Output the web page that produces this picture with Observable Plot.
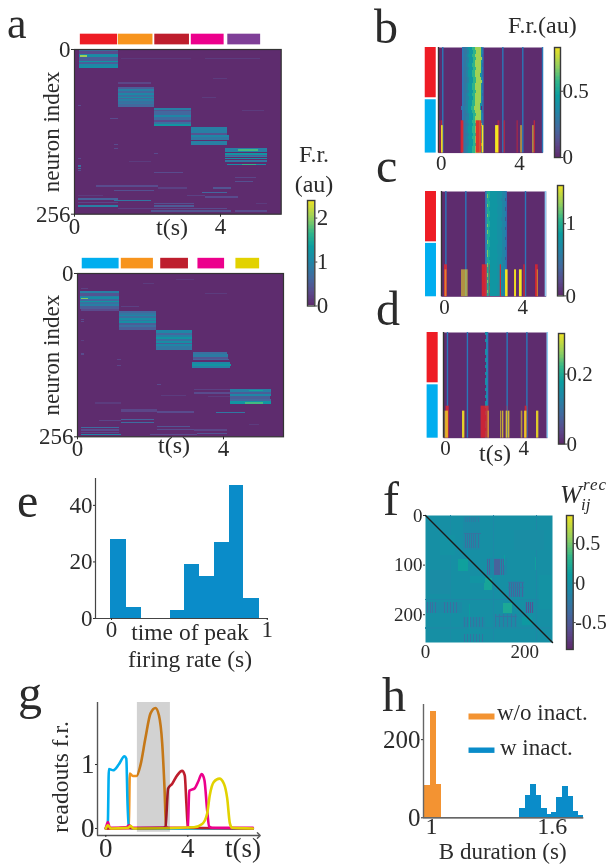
<!DOCTYPE html>
<html><head><meta charset="utf-8">
<script src="https://cdn.jsdelivr.net/npm/d3@7"></script>
<script src="https://cdn.jsdelivr.net/npm/@observablehq/plot@0.6"></script>
<style>
html,body{margin:0;padding:0;background:#fff}
#root{position:relative;width:610px;height:867px;overflow:hidden;filter:blur(.35px);font-family:"Liberation Serif",serif;color:#2b2b2b}
#root svg{position:absolute;overflow:visible;background:transparent}
#root svg.heat g[aria-label="rect"]{filter:blur(.65px)}
.lb{position:absolute;line-height:.72;white-space:nowrap}
</style></head><body><div id="root"></div>
<script>
const C={red:"#ee1c25",orange:"#f7941d",dred:"#be1e2d",pink:"#ec008c",purple:"#7f3f98",blue:"#00aeef",yellow:"#e2d200",bar:"#0a8cc9"};

// ---------- panel a (top): strips [t0,t1,row0,row1,value]
const aTopBlocks=[
[.14,1.2,1,3,.7],[.14,1.2,3,8,.3],[.14,1.2,8,10,1.0],[.14,1.2,10,13,1.1],[.16,.36,10,13,2.0],[.14,1.2,13,18,.5],[.14,1.2,18,20,1.2],[.14,1.2,20,24,.5],[.14,1.2,24,26,1.0],[.14,1.2,26,29,1.1],[.14,1.2,29,30,.6],
[1.2,2.2,59,62,.5],[1.2,2.2,62,66,.9],[1.2,2.2,66,69,.6],[1.2,2.2,69,71,1.0],[1.2,2.2,71,74,.7],[1.2,2.2,74,76,1.1],[1.2,2.2,76,78,.6],[1.2,2.2,78,81,.9],[1.2,2.2,81,84,.7],[1.2,2.2,84,86,.8],[1.2,2.2,86,90,.6],
[2.2,3.2,91,95,.9],[2.2,3.2,95,97,.4],[2.2,3.2,97,102,.6],[2.2,3.2,102,105,1.0],[2.2,3.2,105,110,.65],[2.2,3.2,110,114,.3],[2.2,3.2,114,116,.7],[2.2,3.2,116,120,1.2],
[3.2,4.2,122,130,.9],[3.2,4.2,130,133,.4],[3.2,4.25,133,137,1.0],[3.2,4.25,137,142,.8],[3.2,4.2,143,149,.9],
[4.15,5.3,154,160,.9],[4.5,5.05,156,158,1.7],[4.15,5.3,162,164,1.2],[4.15,5.3,164,166,.5],[4.15,5.3,166,168,.8],[4.15,5.3,169,171,1.1],[4.15,5.3,172,176,.8],[4.2,5.25,178,180,1.1],[4.6,5,178,180,1.6]];
const aTopFaint=[
[1.3,3.2,14,16,.12],[3.6,5.1,14,16,.15],[1.2,2.1,52,54,.25],[3.8,4.2,45,46,.15],[.1,.2,57,58,.4],[.1,.2,63,64,.3],[.1,.2,71,72,.3],[.1,.2,87,88,.3],[3.5,3.9,75,76,.15],[4.6,5.2,95,97,.15],[1,1.2,107,109,.3],[.1,.3,107,108,.3],[.1,.2,127,128,.3],[1.1,1.2,148,150,.3],[1.1,1.2,154,155,.3],[2.2,2.3,162,163,.3],[.1,.2,166,167,.3],[.1,.2,170,171,.3],[1.5,2.1,174,175,.15],[.1,.2,181,183,.7],[.1,.2,185,186,.7],[.1,.2,188,189,.3],[2.2,3,191,193,.3],[.1,.2,194,195,.3],[.1,.2,200,201,.3],[4.4,5,199,201,.25],[4.4,4.9,205,207,.35],[.6,2.3,212,214,.3],[2.3,3.1,215,217,.2],[3.8,4.3,215,217,.4],[1.1,2.2,219,221,.35],[3.5,4.2,222,224,.6],[.1,.8,227,229,.15],[3.1,3.6,227,229,.2],[3.6,4.5,229,231,.3],[.1,1.2,232,234,.55],[1.1,2.1,234,236,.8],[.1,1.2,238,240,.25],[2.2,3.3,239,241,.35],[5,5.3,239,241,.15],[.1,1.2,243,245,.9],[2.2,3.3,243,245,.45],[1.2,2.2,247,249,.2],[2.2,3.2,247,249,.3],[3.2,4.2,247,249,.3],[2.1,4.3,251,253,.4],[4.4,5.3,251,253,.3]];
const aTopStarts=[.16,1.2,2.2,3.2,4.2], aTopEnds=[1.18,2.15,3.15,4.1,5.1];
const aTopColors=[C.red,C.orange,C.dred,C.pink,C.purple];

// ---------- panel a (bottom)
const aBotBlocks=[
[.09,1.14,29,31,.9],[.09,1.14,31,36,.4],[.09,1.14,36,38,.9],[.09,1.14,38,41,1.1],[.1,.3,39,41,1.9],[.09,1.14,41,44,.6],[.09,1.14,44,46,1.2],[.09,1.14,46,48,.7],[.09,1.14,48,51,.9],[.09,1.14,51,56,.5],[.12,1.14,56,60,.3],
[1.15,2.17,60,63,.6],[1.15,2.17,63,66,.8],[1.15,2.17,66,68,1.0],[1.15,2.17,68,71,.7],[1.15,2.17,71,73,1.1],[1.15,2.17,73,76,.8],[1.15,2.17,76,78,1.1],[1.15,2.17,78,81,.5],[1.15,2.17,81,85,.7],[1.15,2.17,85,89,.5],
[2.17,3.16,90,94,1.0],[2.17,3.16,94,97,.6],[2.17,3.16,97,100,.9],[2.17,3.16,100,103,1.2],[2.17,3.16,103,106,.7],[2.17,3.16,106,109,1.1],[2.17,3.16,109,112,.5],[2.17,3.16,112,115,1.0],[2.17,3.16,115,120,.8],
[3.18,4.12,124,127,.7],[3.18,4.15,127,132,.85],[3.18,4.15,132,135,.4],[3.18,4.17,135,137,.55],[3.16,4.2,139,142,1.0],[3.16,4.21,142,146,1.2],[3.16,4.2,146,149,.9],
[4.18,5.32,182,186,.9],[4.7,5.1,183,185,1.4],[4.18,5.32,186,190,.5],[4.18,5.32,190,193,1.0],[4.18,5.3,193,197,.5],[4.18,5.32,197,200,.6],[4.18,5.32,201,206,1.2],[4.6,5.1,202,205,1.7]];
const aBotFaint=[
[.1,.2,20,21,.25],[.1,.3,24,25,.2],[1.8,2.2,17,18,.12],[2.7,3.2,10,11,.12],[1.8,2.1,16,17,.15],[3.5,4.1,32,33,.15],[1.2,1.7,52,54,.2],[.1,.2,72,73,.3],[3.5,4.1,73,74,.15],[.1,.2,76,77,.3],[4.9,5.3,95,96,.12],[.1,.2,100,101,.3],[.1,.2,105,106,.2],[.5,.9,117,118,.15],[.1,.2,126,128,.3],[1.1,1.2,135,137,.25],[1.1,1.2,145,146,.25],[.1,.2,161,162,.2],[1.3,1.9,175,176,.15],[2.2,2.3,174,176,.3],[.1,.2,175,176,.3],[3.2,4.2,182,184,.2],[3.2,4.2,187,189,.3],[2.3,3,191,193,.15],[3.6,4.2,193,195,.15],[.5,1.2,203,205,.15],[.2,1.2,214,215,.3],[1.2,2.2,213,218,.25],[2.2,3.2,217,219,.3],[3.8,4.6,218,220,.8],[.6,1.2,231,232,.25],[1.2,2.1,229,231,.55],[1.2,2.1,233,235,.65],[2.2,3.1,240,242,.4],[.1,1.15,241,243,.65],[.1,1.15,245,247,.3],[.1,1.15,249,251,.25],[2.2,3.2,244,246,.3],[3.2,4.1,245,247,.25],[4.7,5,236,238,.15],[.1,1.2,252,254,1.0],[2,3.3,252,254,.3],[3.3,4.1,251,253,.4]];
const aBotStarts=[.13,1.2,2.28,3.3,4.34], aBotEnds=[1.14,2.08,3.04,4.03,4.99];
const aBotColors=[C.blue,C.orange,C.dred,C.pink,C.yellow];

// ---------- panels b, c, d: trial raster
const bandColsB=[[1.1,1.3,.27],[1.3,1.42,.33],[1.42,1.62,.43],[1.62,1.76,.56],[1.76,2.06,.7],[2.06,2.13,.38]];
const bShift=[.0,.02,-.01,.03,.01,-.02,.02,.0,-.03,.02,.03,-.01,.0,.02,-.02,.01,.0,-.03,-.05,-.02,.02,.01,-.01,.03,.0,-.02,.02,-.01,.01,.03,.0,-.02];
const bBlue=[.08,1.1,2.13,3.15,4.17,5.18];
const bRed=[[-.14,-.03,.6],[0,.08,.7],[1.02,1.16,.9],[1.79,1.99,.9],[1.99,2.08,.85],[2.9,3,.5],[3.22,3.27,.8],[3.88,3.93,.7],[4.75,4.82,.7]];
const bYellow=[[.02,.1,1],[2.1,2.18,1],[2.78,2.95,1],[4.07,4.14,.7],[4.67,4.75,.55]];

const bandColsC=[[2.1,2.16,.5],[2.16,2.22,1.2],[2.22,2.33,.95],[2.33,2.72,.78],[2.72,2.95,.72],[2.95,3.15,.62]];
const cShift=[.0,.01,-.02,.0,.02,-.01,.0,.02,-.03,.0,.01,-.02,.01,.0,-.01,.02,.0,-.01,.01,.02,-.03,.0,.01,.0,-.02,.01,.0,.02,-.01,.0,.01,-.02];
const cBlue=[.07,1.09,2.13,3.15,4.14];
const cRed=[[0,.15,.85],[1.93,2.18,.85],[2.28,2.35,.4],[2.85,2.91,.9],[4.04,4.14,.6],[4.65,4.79,.8]];
const cYellow=[[.03,.12,.45],[.87,1.21,.55],[3.12,3.25,1],[3.58,3.68,.95],[3.83,3.97,1],[4.74,4.8,.45]];

const bandColsD=[[2.06,2.12,.13],[2.12,2.18,.17]];
const dShift=[.0,.02,-.02,.01,.03,-.01,.0,.02,-.03,.02,.0,.03,-.02,.01,.0,-.03,.02,.0,.02,-.01,.01,-.02,.0,.02,-.02,.01,.03,.0,-.01,.02,.0,-.02];
const dBlue=[.1,1.12,2.15,3.15,4.16];
const dRed=[[.03,.19,.85],[1.82,2.23,.8],[3.13,3.19,.4],[4.07,4.17,.85]];
const dYellow=[[-.02,.15,.7],[.87,.99,.9],[2.18,2.23,.8],[2.81,2.86,.6],[2.9,2.98,.7],[3.1,3.17,.75],[3.2,3.29,.75],[3.87,3.95,.55],[4.04,4.16,.8],[4.65,4.77,.85]];

// ---------- panel e
const eEdges=[[-.004,.093],[.093,.19],[.377,.47],[.47,.565],[.565,.662],[.662,.755],[.755,.85],[.85,.947]];
const eCounts=[28,4,3,19,15,27,47,7];

// ---------- panel f: [x0,x1,y0,y1,value]
const fPatches=[
[67,87,89,112,.12],[118,135,126,152,.17],[158,175,178,198,.2],[90,120,122,138,.0],[195,215,205,222,.05],[76,111,3,70,-.1],[124,165,87,121,-.12],[168,200,134,165,-.12],[201,220,175,198,-.14],[3,74,175,198,-.1],[77,120,205,228,-.1],[141,185,200,225,-.1],[0,256,226,229,-.09],
[50,52,0,256,-.09],[138,140,0,256,-.12],[224,226,0,256,-.13],[0,256,170,172,-.13],[0,256,88,89,-.01],[160,162,80,100,.1],[88,90,180,230,.08],[222,224,85,110,.12],[30,60,40,80,-.02],[180,240,30,70,-.07],[10,50,110,160,-.08],[230,256,120,190,-.02]];
const fStripes=[
...[80,84,88,93,97,101,106].flatMap(x=>[[x,x+2,36,66,-.34],[x,x+2,4,14,-.25]]),
[78,112,37,38,-.3],[78,112,46,47,-.28],[78,112,58,59,-.3],
...[125,129,140,144,148,153,157].map(x=>[x,x+2.5,88,120,-.45]),
...[170,174,178,182,186,190,195].map(x=>[x,x+2,135,165,-.43]),
[168,200,136,137,-.3],[168,200,146,147,-.3],
...[204,208,212,216].map(x=>[x,x+2,176,198,-.55]),
...[5,10,14,20,38,44,50,56,62,68].map(x=>[x,x+1.5,176,198,-.35]),
...[78,84,90,96,102,108,114].flatMap(x=>[[x,x+2,205,226,-.3],[x,x+2,240,256,-.3]]),
...[142,150,158,166,174,182].map(x=>[x,x+2,200,225,-.3]),
[76,122,243,244,-.35],[142,186,204,205,-.3],[55,120,122,123,-.2]];

// ---------- panel g
const gT={blue:[0,.03,.1,.15,.36,.63,.91,1,1.06,1.12,1.3,7.17],
  orange:[0,1.05,1.12,1.17,1.32,1.5,1.69,1.93,2.18,2.42,2.59,2.75,2.86,2.94,3.1,7.17],
  dred:[0,2.8,2.91,3.04,3.24,3.48,3.72,3.85,3.93,4,4.15,7.17],
  pink:[0,.05,.1,.2,1,1.15,1.3,3.9,4,4.07,4.34,4.5,4.68,4.81,4.94,5.04,5.2,7.17],
  yellow:[0,.1,.25,1.1,1.2,1.35,4.3,4.7,4.94,5.07,5.27,5.54,5.76,5.92,6.05,6.16,7.17]};
const gV={blue:[0,0,.1,.93,.91,1,1.13,1.09,.39,.03,0,0],
  orange:[0,.02,.03,.86,.82,.82,.99,1.41,1.8,1.885,1.77,1.33,.65,.03,0,0],
  dred:[0,.01,.03,.625,.7,.83,.9,.83,.39,.03,.01,0],
  pink:[.01,.06,.1,.01,.02,.05,.01,.01,.03,.59,.63,.73,.85,.755,.29,.03,.01,.01],
  yellow:[0,.05,0,.01,.04,0,.02,.07,.23,.52,.73,.78,.7,.47,.08,.01,0]};

// ---------- panel h
const hOrangeEdges=[.967,.997,1.025,1.051], hOrange=[82,271,84];
const hBlueEdges=[1.413,1.438,1.468,1.493,1.521,1.547,1.575,1.597,1.621,1.65,1.679,1.707,1.729,1.757];
const hBlue=[2,24,56,84,57,24,8,14,52,80,54,17,6];

// ---------- helpers
const root=document.getElementById("root");
const mapStops=[0,.12,.25,.42,.55,.68,.82,1];
const mapColors=["#5e2c6e","#5a4a8c","#43689e","#1e87a6","#0a9da0","#2fb58a","#93cf5e","#f3e31f"];
const ramp=d3.scaleLinear().domain(mapStops).range(mapColors).interpolate(d3.interpolateRgb);
const bg=ramp(0);
function place([x0,y0,x1,y1],[mt,mr,mb,ml],fs,opts,marks){
  const svg=Plot.plot({width:x1-x0+ml+mr,height:y1-y0+mt+mb,marginTop:mt,marginRight:mr,marginBottom:mb,marginLeft:ml,
    style:{fontFamily:'"Liberation Serif",serif',fontSize:fs+"px",color:"#2b2b2b",background:"transparent",overflow:"visible"},...opts,marks});
  svg.style.left=(x0-ml)+"px";svg.style.top=(y0-mt)+"px";root.append(svg);return svg;
}
function label(text,x,base,size,o={}){
  const d=document.createElement("div");d.className="lb";d.innerHTML=text;
  d.style.fontSize=size+"px";
  const dy=.6975*size;
  if(o.rotate){
    d.style.left=x+"px";d.style.top=base+"px";
    d.style.transformOrigin="0 0";
    d.style.transform=`rotate(-90deg) translate(-50%,${-dy}px)`;
  }else{
    d.style.left=x+"px";d.style.top=(base-dy)+"px";
    if(o.center)d.style.transform="translateX(-50%)";
  }
  root.append(d);
}
const rows=a=>a.map(([t0,t1,r0,r1,v])=>({t0,t1,r0,r1,v}));
function heatRect(a){return Plot.rect(rows(a),{x1:"t0",x2:"t1",y1:"r0",y2:"r1",fill:"v",shapeRendering:"crispEdges"});}
function colorbar(rect,domain,ticks,fs){
  const n=80,[a,b]=domain,st=(b-a)/n;
  place(rect,[1,32,1,4],fs,{x:{domain:[0,1],axis:null},y:{domain,axis:null},color:{domain,interpolate:ramp}},[
    Plot.rect(d3.range(n).map(i=>a+i*st),{x1:0,x2:1,y1:d=>d,y2:d=>d+st*1.05,fill:d=>d,shapeRendering:"crispEdges"}),
    Plot.frame({stroke:"#3a3a3a",strokeWidth:1.4}),
    Plot.axisY({anchor:"right",ticks,tickSize:2,tickPadding:0,tickFormat:d=>String(d),stroke:"#3a3a3a"})
  ]);
}
function heatA(rect,blocks,faint,starts,ends,colors,labelX){
  const svg=place(rect,[30,6,36,62],23,{
    x:{domain:[0,(rect[2]-rect[0])/36.5],axis:null},y:{domain:[0,256],reverse:true,axis:null},
    color:{domain:[0,2.4],interpolate:ramp}},[
    Plot.frame({fill:bg,stroke:null}),
    heatRect(faint),heatRect(blocks),
    Plot.frame({stroke:"#333",strokeWidth:1.2}),
    Plot.axisX({ticks:[0,4],tickSize:3,tickPadding:0,label:null,tickFormat:d=>d}),
    Plot.axisY({ticks:[0,256],tickSize:3,tickPadding:1,label:"neuron index",labelAnchor:"center",labelArrow:"none",labelOffset:labelX,tickFormat:d=>d})
  ]);
  svg.classList.add("heat");
  // condition bars above the frame share the time axis
  place(rect,[30,6,36,62],23,{x:{domain:[0,(rect[2]-rect[0])/36.5],axis:null},y:{domain:[0,256],reverse:true,axis:null}},[
    Plot.rect(starts.map((s,i)=>({s,e:ends[i],c:colors[i]})),{x1:"s",x2:"e",y1:-23.8,y2:-7.2,fill:"c"})
  ]);
}
function raster(rect,origin,cols,shift,blue,lightBlue,red,yellow,vmax,redFrom,yelFrom,side,redSplit){
  const [x0,,x1]=rect, dom=[(x0-origin)/19.57,(x1-origin)/19.57];
  const h=100/shift.length;
  const band=shift.flatMap((s,i)=>cols.map(([a,b,v])=>({a:a+s,b:b+s,r0:i*h,r1:(i+1)*h,v})));
  const ov=(a,from,c)=>Plot.rect(a.map(([p,q,o])=>({p,q,o})),{x1:"p",x2:"q",y1:from,y2:100,fill:c,fillOpacity:"o"});
  place(rect,[4,8,26,22],21,{
    x:{domain:dom,axis:null},y:{domain:[0,100],reverse:true,axis:null},
    color:{domain:[0,vmax],interpolate:ramp},opacity:{type:"identity"}},[
    Plot.frame({fill:bg,stroke:null}),
    Plot.rect(band,{x1:"a",x2:"b",y1:"r0",y2:"r1",fill:"v",shapeRendering:"crispEdges"}),
    Plot.ruleX(blue,{stroke:"#2a78b8",strokeWidth:1.4}),
    ...(lightBlue!=null?[Plot.ruleX([lightBlue],{stroke:"#8fcdf0",strokeWidth:1.6})]:[]),
    ov(red,redFrom,"#e3242b"),ov(yellow,yelFrom,"#f5e620"),
    Plot.rect([{c:C.red,a:0,b:redSplit[0]},{c:C.blue,a:redSplit[1],b:100}],{x1:side[0],x2:side[1],y1:"a",y2:"b",fill:"c"}),
    Plot.ruleX([dom[0]],{stroke:"#333",strokeWidth:1.4}),
    Plot.axisX({ticks:[0,4],tickSize:0,tickPadding:2,label:null,tickFormat:d=>d})
  ]);
}

// ---------- draw
heatA([74,49.3,280.7,214],aTopBlocks,aTopFaint,aTopStarts,aTopEnds,aTopColors,32);
heatA([76.7,272.7,282.7,436],aBotBlocks,aBotFaint,aBotStarts,aBotEnds,aBotColors,35);
colorbar([306.7,199.5,314,305],[0,2.4],[0,1,2],23);

raster([438.3,46.7,542.7,152.3],441,bandColsB,bShift,bBlue,null,bRed,bYellow,.83,69.4,74,[-.816,-.255],[47.6,49.5]);
raster([441,190.7,545.7,296],444,bandColsC,cShift,cBlue,5.16,cRed,cYellow,1.53,69.6,74.4,[-.97,-.41],[47.8,49.3]);
raster([443.3,332.3,547.3,438],445.3,bandColsD,dShift,dBlue,5.2,dRed,dYellow,.316,69.7,74.4,[-.94,-.374],[47.6,49.5]);
colorbar([554,47.3,560,157.3],[0,.83],[0,.5],21);
colorbar([556.7,185.3,562.7,295.7],[0,1.53],[0,1],21);
colorbar([558.3,332.7,564.3,443.3],[0,.316],[0,.2],21);

// e
place([95,478,268,618],[4,10,30,40],23,{x:{domain:[-.103,1.008],axis:null},y:{domain:[0,49.5],axis:null}},[
  Plot.rect(eCounts.map((c,i)=>({a:eEdges[i][0],b:eEdges[i][1],c})),{x1:"a",x2:"b",y1:0,y2:"c",fill:C.bar,shapeRendering:"crispEdges"}),
  Plot.ruleY([0],{stroke:"#444",strokeWidth:1.2}),
  Plot.ruleX([-.103],{stroke:"#444",strokeWidth:1.2}),
  Plot.axisY({ticks:[0,20,40],tickSize:2,tickPadding:1,label:null,tickFormat:d=>d}),
  Plot.axisX({ticks:[0,1],tickSize:2,tickPadding:0,label:null,tickFormat:d=>d})
]);

// f
const fsvg=place([425,515,552,642],[4,4,24,40],19,{x:{domain:[0,256],axis:null},y:{domain:[0,256],reverse:true,axis:null},color:{domain:[-.84,.856],interpolate:ramp}},[
  Plot.frame({fill:ramp(.47),stroke:null}),
  heatRect(fPatches),heatRect(fStripes),
  Plot.line([[0,0],[256,256]],{stroke:"#1a1a1a",strokeWidth:1.4}),
  Plot.axisX({ticks:[0,200],tickSize:0,tickPadding:2,label:null,tickFormat:d=>d}),
  Plot.axisY({ticks:[0,100,200],tickSize:2,tickPadding:1,label:null,tickFormat:d=>d})
]);
fsvg.classList.add("heat");
colorbar([566,515,572.7,649],[-.84,.856],[-.5,0,.5],20);

// g
const gSeries=[["orange","#f0921d"],["blue",C.blue],["dred",C.dred],["pink",C.pink],["yellow",C.yellow]];
const gRows=gSeries.flatMap(([k,c])=>gT[k].map((t,i)=>({k,c,t,v:gV[k][i]})));
place([96.7,702,258,835],[4,6,32,40],27,{x:{domain:[-.405,7.46],axis:null},y:{domain:[-.11,1.97],axis:null}},[
  Plot.line(gRows,{x:"t",y:"v",z:"k",stroke:"c",strokeWidth:2.6,curve:"monotone-x"}),
  Plot.rect([{a:1.54,b:3.15}],{x1:"a",x2:"b",y1:-.06,y2:1.97,fill:"#d2d2d2",mixBlendMode:"multiply"}),
  Plot.ruleX([-.405],{stroke:"#555",strokeWidth:1.4}),
  Plot.line([[-.405,-.11],[7.46,-.11]],{stroke:"#555",strokeWidth:1.4,markerEnd:"arrow"}),
  Plot.axisY({ticks:[0,1],tickSize:2,tickPadding:1,label:null,tickFormat:d=>d}),
  Plot.axisX({ticks:[0,4],tickSize:2,tickPadding:0,label:null,tickFormat:d=>d})
]);

// h
const histRows=(e,v,c)=>v.map((n,i)=>({a:e[i],b:e[i+1],n,c}));
place([422.7,704,583,817.3],[4,6,24,50],25,{x:{domain:[.96,1.757],axis:null},y:{domain:[0,290],axis:null}},[
  Plot.rect(histRows(hBlueEdges,hBlue,C.bar),{x1:"a",x2:"b",y1:0,y2:"n",fill:"c",shapeRendering:"crispEdges"}),
  Plot.rect(histRows(hOrangeEdges,hOrange,"#f39332"),{x1:"a",x2:"b",y1:0,y2:"n",fill:"c",shapeRendering:"crispEdges"}),
  Plot.ruleY([0],{stroke:"#333",strokeWidth:1.2}),
  Plot.ruleX([.96],{stroke:"#666",strokeWidth:1.4}),
  Plot.axisY({ticks:[0,200],tickSize:2,tickPadding:1,label:null,tickFormat:d=>d}),
  Plot.axisX({ticks:[1,1.6],tickSize:0,tickPadding:-1,fontSize:24,label:null,tickFormat:d=>d})
]);

// text outside the frames
const LET=48;
label("a",7,39,44);label("b",374,43,LET);label("c",376,182,LET);label("d",376,325,LET);
label("e",17,517,LET);label("f",383,515,LET);label("g",18,709,LET);label("h",382,711,LET);
label("F.r.",314,163,24,{center:true});label("(au)",314,193,24,{center:true});
label("F.r.(au)",508,34,24);
label("t(s)",172,236,24,{center:true});
label("t(s)",174,454,24,{center:true});
label("t(s)",495,462,24,{center:true});
label("time of peak",190,640,23.5,{center:true});
label("firing rate (s)",190,667,23.5,{center:true});
label("readouts f.r.",68,777,23.5,{rotate:true});
label("t(s)",225,858,27);
label("B duration (s)",502.7,860,23,{center:true});
label("w/o inact.",497,720.7,23);label("w inact.",500,755.7,23);
const w=document.createElement("div");w.className="lb";
w.style.cssText="left:560px;top:482px;font-size:26px;font-style:italic;line-height:1";
w.innerHTML='W<span style="position:absolute;left:23px;top:-6px;font-size:17px;letter-spacing:1px">rec</span><span style="position:absolute;left:21px;top:14px;font-size:17px">ij</span>';
root.append(w);
// legend swatches for h
place([468,713,494,719],[0,0,0,0],10,{x:{domain:[0,1],axis:null},y:{domain:[0,1],axis:null}},[Plot.frame({fill:"#f39332",stroke:null})]);
place([468,747.3,494,752.7],[0,0,0,0],10,{x:{domain:[0,1],axis:null},y:{domain:[0,1],axis:null}},[Plot.frame({fill:C.bar,stroke:null})]);
</script></body></html>
